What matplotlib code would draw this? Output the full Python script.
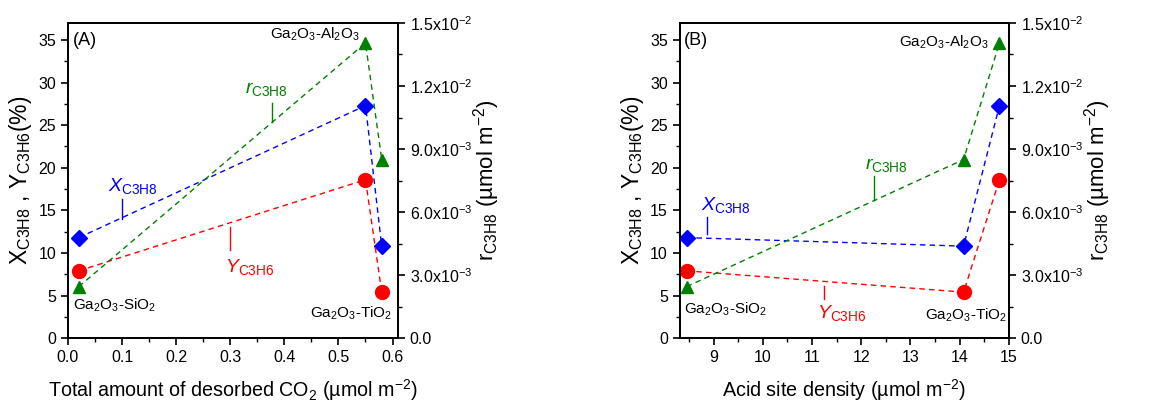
import matplotlib
matplotlib.use('Agg')
import matplotlib.pyplot as plt
from matplotlib.ticker import MultipleLocator, FuncFormatter

plt.rcParams['font.family'] = ['Liberation Sans', 'DejaVu Sans']
plt.rcParams['mathtext.fontset'] = 'custom'
plt.rcParams['mathtext.rm'] = 'Liberation Sans'
plt.rcParams['mathtext.it'] = 'Liberation Sans:italic'
plt.rcParams['mathtext.bf'] = 'Liberation Sans:bold'

# data (order: SiO2, Al2O3, TiO2)
samples = ['SiO2', 'Al2O3', 'TiO2']
co2_desorbed = [0.02, 0.55, 0.58]
acid_density = [8.45, 14.81, 14.08]
conv_x = [11.8, 27.3, 10.8]
yield_y = [7.9, 18.6, 5.4]
rate_r = [2.45e-3, 14.05e-3, 8.5e-3]

BLUE = '#0000ff'
RED = '#ff0000'
GREEN = '#008000'
DASH = (0, (4, 3))


def sci_fmt(v, pos):
    if abs(v) < 1e-12:
        return '0.0'
    exp = 0
    m = v
    while abs(m) < 1:
        m *= 10
        exp -= 1
    return '%.1fx10$^{%d}$' % (m, exp)


def draw_panel(ax, xs, xlabel, tag, annot):
    order = sorted(range(len(xs)), key=lambda i: xs[i])
    xo = [xs[i] for i in order]
    ax2 = ax.twinx()
    ax.plot(xo, [conv_x[i] for i in order], color=BLUE, ls=DASH, lw=1,
            marker='D', ms=8.5, zorder=3)
    ax.plot(xo, [yield_y[i] for i in order], color=RED, ls=DASH, lw=1,
            marker='o', ms=10, zorder=3)
    ax2.plot(xo, [rate_r[i] for i in order], color=GREEN, ls=DASH, lw=1,
             marker='^', ms=9, zorder=3)

    ax.set_ylim(0, 37)
    ax2.set_ylim(0, 0.015)
    ax.yaxis.set_major_locator(MultipleLocator(5))
    ax.yaxis.set_minor_locator(MultipleLocator(2.5))
    ax2.yaxis.set_major_locator(MultipleLocator(0.003))
    ax2.yaxis.set_minor_locator(MultipleLocator(0.0015))
    ax2.yaxis.set_major_formatter(FuncFormatter(sci_fmt))

    for a in (ax, ax2):
        for s in a.spines.values():
            s.set_linewidth(1.3)
        a.tick_params(which='major', direction='out', length=5, width=1.2,
                      labelsize=11.5)
        a.tick_params(which='minor', direction='out', length=3, width=1.0)

    ax.set_xlabel(xlabel, fontsize=14.2, labelpad=9)
    ax.set_ylabel(r'X$_{\mathregular{C3H8}}$ , Y$_{\mathregular{C3H6}}$(%)',
                  fontsize=16.5, labelpad=3)
    ax2.set_ylabel(r'r$_{\mathregular{C3H8}}$ (µmol m$^{-2}$)', fontsize=16,
                   labelpad=-1)

    ax.text(annot['tag'][0], annot['tag'][1], tag, fontsize=13,
            va='center', ha='left')
    ax.text(annot['sio2'][0], annot['sio2'][1], r'Ga$_2$O$_3$-SiO$_2$',
            fontsize=11, va='center', ha='left')
    ax.text(annot['tio2'][0], annot['tio2'][1], r'Ga$_2$O$_3$-TiO$_2$',
            fontsize=11, va='center', ha='right')
    ax.text(annot['al2o3'][0], annot['al2o3'][1], r'Ga$_2$O$_3$-Al$_2$O$_3$',
            fontsize=11, va='center', ha='right')

    for key, lab, col in [('x', r'$X_{\mathregular{C3H8}}$', BLUE),
                          ('y', r'$Y_{\mathregular{C3H6}}$', RED),
                          ('r', r'$r_{\mathregular{C3H8}}$', GREEN)]:
        tx, ty, lx, ly0, ly1 = annot[key]
        ax.text(tx, ty, lab, color=col, fontsize=14, va='center', ha='left')
        ax.plot([lx, lx], [ly0, ly1], color=col, lw=1, zorder=2)
    return ax2


fig = plt.figure(figsize=(11.66, 4.03), dpi=100)
axA = fig.add_axes([0.0583, 0.161, 0.283, 0.782])
axB = fig.add_axes([0.583, 0.161, 0.2822, 0.782])

axA.set_xlim(0, 0.61)
axA.xaxis.set_major_locator(MultipleLocator(0.1))
axA.xaxis.set_minor_locator(MultipleLocator(0.05))
axA.xaxis.set_major_formatter(FuncFormatter(lambda v, p: '%.1f' % v))
draw_panel(axA, co2_desorbed, r'Total amount of desorbed CO$_2$ (µmol m$^{-2}$)',
           '(A)',
           {'tag': (0.009, 35), 'sio2': (0.009, 3.9), 'tio2': (0.6, 2.9),
            'al2o3': (0.54, 35.7),
            'x': (0.074, 17.9, 0.1, 16.3, 14.0),
            'y': (0.29, 8.3, 0.30, 13.0, 10.3),
            'r': (0.327, 29.3, 0.378, 27.6, 25.4)})

axB.set_xlim(8.31, 15)
axB.xaxis.set_major_locator(MultipleLocator(1))
axB.xaxis.set_minor_locator(MultipleLocator(0.5))
draw_panel(axB, acid_density, r'Acid site density (µmol m$^{-2}$)', '(B)',
           {'tag': (8.39, 35), 'sio2': (8.39, 3.4), 'tio2': (14.96, 2.7),
            'al2o3': (14.6, 34.7),
            'x': (8.74, 15.6, 8.86, 14.2, 12.2),
            'y': (11.11, 2.9, 11.24, 6.1, 4.6),
            'r': (12.07, 20.3, 12.25, 19.0, 16.2)})

fig.savefig('out.png', dpi=100)
